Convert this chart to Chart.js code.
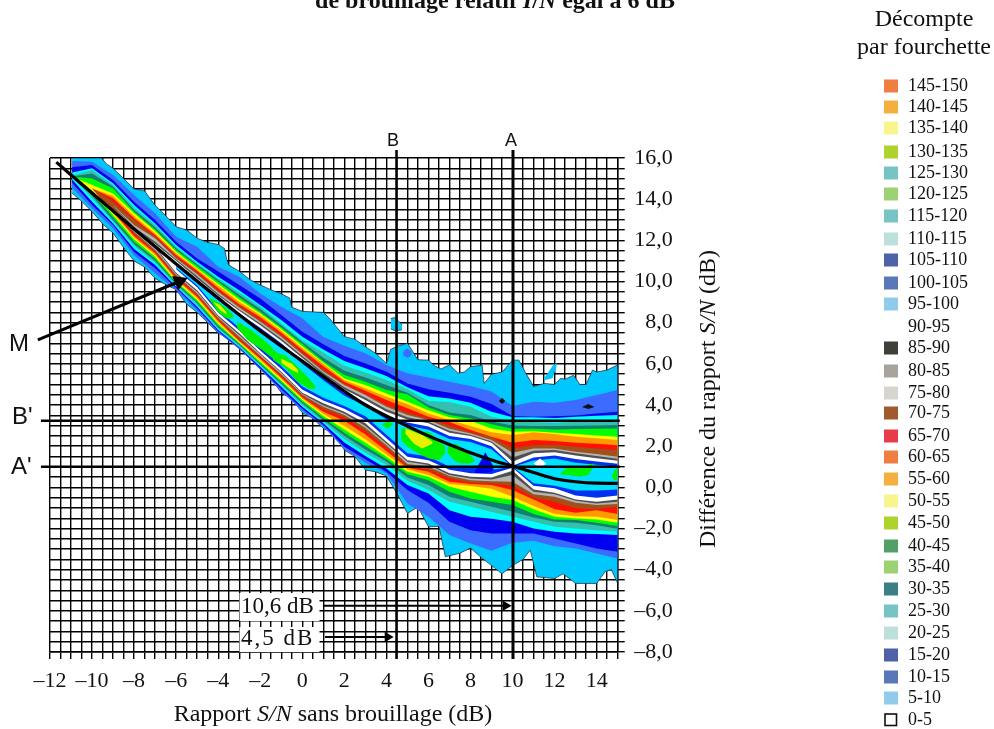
<!DOCTYPE html>
<html><head><meta charset="utf-8">
<style>html,body{margin:0;padding:0;background:#fff}canvas{display:block}</style>
<script src="https://cdn.jsdelivr.net/npm/chart.js@4"></script>
</head><body><canvas id="c" width="994" height="729"></canvas>
<script>
// x columns (dB) at which contour boundaries were read
const colX=[-10.95,-10,-9,-8,-7,-6,-5,-4,-3,-2,-1,0,1,2,3,4,5,6,7,8,9,10,11,12,13,14,15];
// each column: y (dB) of level tops 10,15,20,25,30,35,50,55,65,70,80,85,90 then the same level bottoms in reverse order
const c_m11=[15.85,15.55,15.3,15.15,15.1,15.1,15.1,15.1,15.1,15.1,15.1,15.1,15.1, 15.1,15.1,15.1,15.1,15.1,15.1,15.1,15.1,15.1,15.05,14.95,14.8,14.55];
const c_m10=[15.82,15.66,15.5,15.42,15.25,15.01,14.69,14.52,14.52,14.52,14.52,14.52,14.52, 14.52,14.52,14.52,14.52,14.52,14.52,14.41,14.28,14.17,14.04,13.88,13.72,13.55];
const c_m9=[15.17,14.93,14.77,14.69,14.61,14.52,14.28,14.17,14.04,13.88,13.72,13.72,13.72, 13.72,13.72,13.72,13.47,13.39,13.31,13.23,13.12,12.99,12.91,12.82,12.74,12.58];
const c_m8=[14.2,13.88,13.72,13.6,13.47,13.39,13.31,13.18,13.07,12.99,12.74,12.63,12.58, 12.58,12.5,12.42,12.31,12.21,12.13,12.05,11.93,11.82,11.72,11.58,11.43,11.27];
const c_m7=[13.31,12.99,12.82,12.74,12.63,12.53,12.45,12.34,12.26,12.18,12.1,11.93,11.82, 11.69,11.61,11.53,11.45,11.37,11.29,11.2,11.11,11.01,10.91,10.8,10.64,10.39];
const c_m6=[12.18,11.93,11.77,11.69,11.61,11.53,11.45,11.37,11.29,11.2,11.12,11.07,11.01, 10.43,10.36,10.31,10.23,10.15,10.07,10,9.94,9.88,9.81,9.75,9.68,9.58];
const c_m5=[11.69,11.12,10.96,10.88,10.82,10.75,10.64,10.59,10.52,10.43,10.35,10.26,10.15, 9.58,9.5,9.42,9.34,9.26,9.18,9.1,9.02,8.94,8.85,8.77,8.69,8.58];
const c_m4=[10.72,10.48,10.23,10.15,10.07,9.99,9.88,9.79,9.67,9.55,9.49,9.39,9.32, 8.35,8.29,8.24,8.17,8.09,8.01,7.93,7.85,7.77,7.7,7.64,7.58,7.51];
const c_m3=[10.23,9.83,9.58,9.47,9.34,9.23,9.13,9.02,8.9,8.81,8.74,8.64,8.58, 7.48,7.4,7.32,7.19,7.12,7.07,7.02,6.98,6.93,6.86,6.81,6.77,6.72];
const c_m2=[9.42,9.18,8.86,8.77,8.66,8.53,8.45,8.37,8.26,8.13,8.05,7.96,7.88, 6.51,6.47,6.39,6.34,6.26,6.18,6.1,6.02,5.97,5.92,5.86,5.79,5.73];
const c_m1=[8.77,8.37,8.13,7.96,7.88,7.77,7.69,7.61,7.51,7.4,7.32,7.22,7.12, 5.61,5.57,5.5,5.42,5.34,5.26,5.18,5.1,5.03,4.97,4.89,4.76,4.64];
const c_0=[8.21,7.56,7.32,7.15,7.06,6.96,6.86,6.77,6.67,6.54,6.47,6.38,6.28, 4.59,4.54,4.5,4.43,4.37,4.3,4.24,4.16,4.08,4,3.91,3.82,3.72];
const c_1=[7.3,6.95,6.7,6.55,6.3,6.13,6.05,6,5.88,5.72,5.63,5.55,5.48, 4.08,3.98,3.92,3.79,3.67,3.56,3.46,3.37,3.27,3.19,3.11,3.03,2.94];
const c_2=[6.88,6.38,6.14,5.91,5.67,5.46,5.29,5.21,5.13,5.02,4.97,4.86,4.76, 3.67,3.59,3.51,3.4,3.24,2.98,2.81,2.65,2.51,2.34,2.18,1.97,1.86];
const c_3=[6.51,6.02,5.78,5.58,5.34,5.13,4.97,4.81,4.69,4.53,4.48,4.35,4.24, 3.11,2.98,2.9,2.73,2.57,2.33,2.17,2,1.84,1.68,1.52,1.36,1.19];
const c_4=[5.94,5.62,5.41,5.21,4.97,4.73,4.56,4.4,4.24,4,3.92,3.79,3.67, 2.22,2.13,2.05,1.94,1.76,1.6,1.49,1.36,1.26,1.1,0.92,0.76,0.68];
const c_5=[5.54,5.05,4.86,4.76,4.6,4.52,4.16,4.05,3.84,3.62,3.51,3.4,3.3, 1.32,1.24,1.13,1.03,0.95,0.87,0.76,0.64,0.48,0.32,0.11,-0.13,-0.78];
const c_6=[5.34,4.76,4.43,4.19,4,3.88,3.75,3.59,3.43,3.33,3.27,3.19,3.11, 1.16,1.08,1,0.87,0.76,0.6,0.51,0.35,0.11,-0.13,-0.3,-0.75,-1.43];
const c_7=[5.13,4.6,4.32,4.14,3.64,3.51,3.4,3.27,3.17,3.01,2.85,2.75,2.65, 0.68,0.6,0.55,0.43,0.27,0.16,0.03,-0.22,-0.46,-0.7,-1.11,-1.67,-2.32];
const c_8=[4.92,4.4,4.11,3.92,3.51,3.35,3.24,2.98,2.78,2.68,2.62,2.56,2.49, 0.51,0.43,0.35,0.22,0.16,0.06,-0.22,-0.54,-0.7,-0.94,-1.43,-2.08,-2.73];
const c_9=[4.65,4.05,3.67,3.43,3.2,3.07,2.86,2.68,2.46,2.43,2.3,2.23,2.17, 0.48,0.38,0.29,0.19,0.11,-0.07,-0.46,-0.7,-0.94,-1.2,-1.53,-2.24,-3.08];
const c_10=[3.95,3.46,3.4,3.2,3.01,2.85,2.7,2.54,2.17,1.91,1.68,1.45,1.24, 0.81,0.6,0.27,0.08,-0.13,-0.46,-0.62,-0.86,-1.19,-1.43,-1.67,-2.24,-2.69];
const c_11=[4.16,3.43,3.4,3.17,2.98,2.85,2.72,2.68,2.3,2.05,1.89,1.78,1.65, -0.1,-0.22,-0.34,-0.51,-0.59,-0.91,-1.07,-1.3,-1.46,-1.67,-2,-2.24,-2.6];
const c_12=[4.11,3.45,3.37,3.14,2.98,2.81,2.65,2.59,2.25,2.07,1.89,1.81,1.71, -0.26,-0.33,-0.46,-0.7,-1.07,-1.3,-1.43,-1.56,-1.67,-1.92,-2.16,-2.48,-2.86];
const c_13=[4.24,3.49,3.43,3.19,2.99,2.83,2.59,2.46,2.17,1.97,1.73,1.65,1.55, -0.59,-0.65,-0.75,-1.03,-1.24,-1.4,-1.51,-1.59,-1.72,-2,-2.24,-2.73,-2.97];
const c_14=[4.48,3.59,3.48,3.24,3.01,2.85,2.52,2.38,2.12,1.89,1.62,1.52,1.41, -0.7,-0.78,-0.86,-1.07,-1.11,-1.43,-1.56,-1.72,-1.84,-2.08,-2.27,-2.97,-3.21];
const c_15=[4.73,3.67,3.51,3.27,3.03,2.86,2.46,2.3,2.05,1.81,1.49,1.39,1.29, -0.59,-0.7,-0.81,-0.94,-1.3,-1.59,-1.72,-1.88,-2.01,-2.16,-2.32,-3.13,-3.46];
const columns=[c_m11,c_m10,c_m9,c_m8,c_m7,c_m6,c_m5,c_m4,c_m3,c_m2,c_m1,c_0,c_1,c_2,c_3,c_4,c_5,c_6,c_7,c_8,c_9,c_10,c_11,c_12,c_13,c_14,c_15];
// outermost contour (count = 5)
const outerTopX=[-10.95,-9.55,-9.3,-9,-8.5,-8,-7.5,-7,-6.5,-6,-5.5,-5,-4.5,-4,-3.7,-3.6,-3.5,-3,-2.5,-2,-1.5,-1,-0.6,-0.5,0,1,1.3,2,2.5,3,3.5,4,4.2,4.5,5,5.5,6,6.3,6.6,7,7.4,7.7,8,8.55,8.65,9,9.5,10,10.3,10.6,11,11.5,12,12.3,12.5,12.9,13.2,13.5,13.8,14,14.5,15];
const outerTopY=[16,16,15.7,15.5,15,14.5,14.4,13.7,13.2,12.66,12.5,12.1,11.9,11.8,11.6,11.1,10.8,10.5,10.1,9.83,9.6,9.4,9.2,8.75,8.55,8.5,8.2,7.32,7.2,6.83,6.5,6.02,6.7,6.85,7,6.2,6.18,5.9,5.75,5.95,5.55,5.6,5.86,5.94,5.05,5.5,5.6,6.18,6.18,5.6,4.9,5.05,5,5.3,5.25,5.45,5,5,5.7,5.6,5.7,5.95];
const outerBotX=[-10.95,-10.5,-10,-9.5,-9,-8.5,-8,-7.5,-7,-6.5,-6,-5.5,-5,-4.5,-4,-3.5,-3,-2.5,-2,-1.5,-1,-0.5,0,0.5,1,1.5,2,2.5,3,3.5,4,4.5,5,5.5,6,6.5,6.8,7.5,8,8.5,9,9.5,10,10.5,10.84,11.15,12,12.4,13,13.5,14,14.4,14.7,15];
const outerBotY=[14.3,13.9,13.4,12.8,12.35,11.65,11,10.7,10.15,9.85,9.6,8.9,8.5,8,7.5,7.2,6.75,6.25,5.75,5.3,4.6,4.3,3.62,3.35,2.86,2.6,1.81,1.5,0.84,0.75,0.55,-0.3,-1.27,-0.95,-1.92,-1.9,-3.37,-3.2,-2.95,-3.4,-3.8,-4.2,-3.8,-3.5,-3.05,-4.35,-4.43,-4.2,-4.67,-4.67,-4.67,-4.1,-4,-4.67];
// inner trough between the two ridges (count above 95)
const coreX=[-6,-5,-4,-3,-2,-1,0,1,2,3,4,5,6,7,8,9,10,11,12,13,14,15];
const coreBlueTop=[10.8,9.98,9.2,8.45,7.75,7,6.15,5.35,4.6,4.1,3.5,3.15,2.95,2.5,2.35,2,1.05,1.45,1.55,1.38,1.25,1.15];
const coreBlueBot=[10.6,9.72,8.5,7.62,6.65,5.75,4.75,4.22,3.82,3.28,2.38,1.48,1.32,0.85,0.68,0.65,0.95,0.08,-0.05,-0.4,-0.5,-0.4];
const coreCyanTop=[10.75,9.9,9.08,8.3,7.6,6.85,6,5.2,4.45,3.95,3.3,3,2.8,2.35,2.2,1.85,1,1.3,1.4,1.2,1.1,1];
const coreCyanBot=[10.65,9.8,8.62,7.75,6.8,5.9,4.9,4.35,3.95,3.45,2.55,1.65,1.5,1,0.95,0.85,1,0.2,0.08,-0.15,-0.15,-0.1];
// green and yellow peaks
const lobeGreen=[
 {x:[-4.4,-4,-3.6,-3.3],t:[9.2,9,8.7,8.4],b:[9.1,8.5,8.2,8.2]},
 {x:[-3.1,-2.6,-2,-1.5,-1.2],t:[8.05,7.75,7.3,6.85,6.5],b:[7.75,7.15,6.75,6.35,6.2]},
 {x:[-1.4,-0.8,-0.2,0.3,0.6],t:[6.6,6.4,5.85,5.3,4.95],b:[6.2,5.8,5.1,4.8,4.75]},
 {x:[3.8,4.05,4.3],t:[3.05,3.2,3.1],b:[3,2.85,3.05]},
 {x:[4.7,5,5.5,6,6.5,6.8],t:[2.86,2.86,2.7,2.7,2.3,1.97],b:[2.3,1.97,1.65,1.4,1.32,1.65]},
 {x:[6.9,7.3,7.6,8,8.2],t:[1.97,2.13,1.89,1.57,1.32],b:[1.65,1.24,1.16,1.16,1.29]},
 {x:[12.3,12.7,13.2,13.6,13.85],t:[0.68,1.08,0.92,1.08,1.16],b:[0.6,0.6,0.51,0.6,1]},
 {x:[14.7,14.85,15],t:[0.51,0.84,0.92],b:[0.51,0.35,0.35]}];
const lobeYellow=[
 {x:[-4.2,-3.9,-3.6],t:[9,8.85,8.5],b:[8.95,8.6,8.4]},
 {x:[-1,-0.5,-0.2],t:[6.25,6,5.7],b:[6.05,5.7,5.55]},
 {x:[4.9,5.3,5.7,6.2],t:[2.86,2.7,2.54,2.21],b:[2.62,2.13,1.89,2.13]}];
const lobeBlue={x:[8.2,8.5,8.7,9.1],t:[0.8,1.3,1.7,1],b:[0.7,0.7,0.7,0.8]};
const lobeWhite={x:[11,11.3,11.6],t:[1.16,1.4,1.16],b:[1.16,0.92,1.16]};
const islandCyan={x:[4.2,4.4,4.75],t:[8.2,8.25,7.9],b:[7.7,7.6,7.65]};
const islandBlue={x:[4.8,5,5.2],t:[6.6,6.75,6.6],b:[6.4,6.3,6.4]};
const sliverCyan={x:[11.5,11.9,12.1],t:[5.3,5.9,6.05],b:[5.2,5.3,5.9]};
const pinHoles=[{x:[9.35,9.5,9.65],t:[4.2,4.35,4.2],b:[4.2,4.05,4.2]},{x:[13.3,13.6,13.9],t:[3.9,4.05,3.9],b:[3.9,3.8,3.9]}];
const levelColors=['#3c6cff','#0000f0','#00ffff','#33c0b0','#108070','#00ff00','#ffff00','#ff9900','#ff1000','#a05018','#b4b4b4','#505050','#ffffff'];
// curve M and marker lines
const curveX=[-11.7,-10,-8,-6,-4,-2,0,2,3,4.45,6,7,8,9,10,11,12,13,14,15];
const curveY=[15.8,14.3,12.55,10.85,9.2,7.6,6.13,4.67,4,3.24,2.5,2.08,1.68,1.33,1.03,0.72,0.42,0.27,0.2,0.19];
const lineA=10.02, lineB=4.48, lineBprime=3.24, lineAprime=1;
// tick labels and legend
const xTickLabels=[-12,-10,-8,-6,-4,-2,0,2,4,6,8,10,12,14];
const yTickLabels=[16,14,12,10,8,6,4,2,0,-2,-4,-6,-8];
const legendLabels=['145-150','140-145','135-140','130-135','125-130','120-125','115-120','110-115','105-110','100-105','95-100','90-95','85-90','80-85','75-80','70-75','65-70','60-65','55-60','50-55','45-50','40-45','35-40','30-35','25-30','20-25','15-20','10-15','5-10','0-5'];
const legendColors=['#ef7f40','#f4af3f','#f8f58f','#aed32f','#78c4c4','#9dd272','#78c4c4','#bde0dc','#4f61a8','#5a78b8','#91cbec','#ffffff','#403f3a','#a8a49c','#d8d4ce','#a05a2c','#e83a4a','#ef7f40','#f4af3f','#f8f58f','#aed32f','#50a068','#9dd272','#3a7f85','#78c4c4','#bde0dc','#4f61a8','#5a78b8','#91cbec','#ffffff'];
const legendRowY=[86,107,128,152,173,194,216,239,260,283,304,327,348,371,393,413,436,457,479,501,523,546,567,589,611,633,655,677,698,720];

const SERIF='"Liberation Serif"', SANS='"Liberation Sans"', INK='#111';
const pts=(xs,ys)=>xs.map((x,i)=>({x,y:ys[i]}));
const datasets=[];
function band(xs,top,bot,color,bx,by,edge){
  const base={pointRadius:0,tension:0,borderWidth:edge?0.7:0,borderColor:edge||color};
  datasets.push({...base,data:pts(xs,top),fill:'+1',backgroundColor:color});
  datasets.push({...base,data:pts(bx||xs,by||bot),fill:false});
}
band(outerTopX,outerTopY,null,'#00c8ff',outerBotX,outerBotY,'#223');
levelColors.forEach((col,i)=>band(colX,columns.map(c=>c[i]),columns.map(c=>c[25-i]),col));
band(coreX,coreBlueTop,coreBlueBot,'#0030f0');
band(coreX,coreCyanTop,coreCyanBot,'#00e0ff');
band(lobeBlue.x,lobeBlue.t,lobeBlue.b,'#0000f0');
lobeGreen.forEach(l=>band(l.x,l.t,l.b,'#00f000'));
lobeYellow.forEach(l=>band(l.x,l.t,l.b,'#e8f000'));
band(lobeWhite.x,lobeWhite.t,lobeWhite.b,'#ffffff');
band(islandCyan.x,islandCyan.t,islandCyan.b,'#00c8ff',null,null,'#223');
band(islandBlue.x,islandBlue.t,islandBlue.b,'#3c6cff');
band(sliverCyan.x,sliverCyan.t,sliverCyan.b,'#00c8ff');
pinHoles.forEach(l=>band(l.x,l.t,l.b,'#111111'));
function stroke(data,width,extra){
  datasets.push({data,borderColor:'#000',borderWidth:width,pointRadius:0,fill:false,tension:0,clip:false,...extra});
}
stroke([{x:lineA,y:16.39},{x:lineA,y:-8.34}],3);
stroke([{x:lineB,y:16.39},{x:lineB,y:-8.34}],2.5);
stroke([{x:-12.43,y:lineBprime},{x:15.1,y:lineBprime}],2.5);
stroke([{x:-12.43,y:lineAprime},{x:15.1,y:lineAprime}],2.5);
stroke(pts(curveX,curveY),3.2,{cubicInterpolationMode:'monotone'});
const head=(r,rot)=>({pointRadius:[0,r],pointStyle:'triangle',pointRotation:rot,pointBackgroundColor:'#000',pointBorderWidth:0});
stroke([{x:-12.58,y:7.16},{x:-5.85,y:10}],3,head(9,67));
stroke([{x:0.98,y:-5.75},{x:9.67,y:-5.75}],2,head(6,90));
stroke([{x:1.08,y:-7.27},{x:4.06,y:-7.27}],2,head(6,90));
datasets.forEach((d,i)=>{d.order=datasets.length-i;});

function runs(ctx,parts,x,y,size,weight){
  const f=it=>`${it?'italic ':''}${weight||''} ${size}px ${SERIF}`;
  let w=0; parts.forEach(p=>{ctx.font=f(p[1]);w+=ctx.measureText(p[0]).width;});
  let cx=x-w/2;
  ctx.textAlign='left';
  parts.forEach(p=>{ctx.font=f(p[1]);ctx.fillText(p[0],cx,y);cx+=ctx.measureText(p[0]).width;});
}
const annotations={id:'annotations',afterDatasetsDraw(chart){
  const ctx=chart.ctx; ctx.save();
  ctx.fillStyle='#fff'; ctx.fillRect(239.5,593,80,28); ctx.fillRect(239.5,627,80,25);
  ctx.fillStyle=INK; ctx.textBaseline='alphabetic'; ctx.textAlign='left';
  ctx.font=`23px ${SERIF}`; ctx.fillText('10,6 dB',241,613);
  ctx.letterSpacing='2px'; ctx.fillText('4,5 dB',241,645); ctx.letterSpacing='0px';
  ctx.font=`18px ${SANS}`; ctx.textAlign='center';
  ctx.fillText('A',511,146); ctx.fillText('B',393,146);
  ctx.font=`24px ${SANS}`; ctx.textAlign='left';
  ctx.fillText('M',9,351); ctx.fillText("B'",12,424); ctx.fillText("A'",11,474);
  runs(ctx,[['de brouillage relatif ',0],['I',1],['/',0],['N',1],[' égal à 6 dB',0]],495,8,24,'bold');
  runs(ctx,[['Rapport ',0],['S/N',1],[' sans brouillage (dB)',0]],333,721,24);
  ctx.save(); ctx.translate(715,399); ctx.rotate(-Math.PI/2);
  runs(ctx,[['Différence du rapport ',0],['S/N',1],[' (dB)',0]],0,0,24);
  ctx.restore();
  ctx.textAlign='center'; ctx.font=`24px ${SERIF}`;
  ctx.fillText('Décompte',924,26); ctx.fillText('par fourchette',924,54);
  ctx.textAlign='left'; ctx.font=`18px ${SERIF}`; ctx.textBaseline='middle';
  legendLabels.forEach((t,i)=>{
    const y=legendRowY[i];
    ctx.fillStyle=legendColors[i];
    if(t==='0-5'){ctx.fillStyle='#fff';ctx.strokeStyle='#111';ctx.lineWidth=1.6;ctx.fillRect(885,y-6,11.5,11.5);ctx.strokeRect(885,y-6,11.5,11.5);}
    else if(t!=='90-95'){ctx.fillRect(884,y-6.5,14,13);}
    ctx.fillStyle=INK; ctx.fillText(t,908,y+0.5);
  });
  ctx.restore();
}};
const white={id:'white',beforeDraw(c){c.ctx.save();c.ctx.fillStyle='#fff';c.ctx.fillRect(0,0,c.width,c.height);c.ctx.restore();}};
const gridOpts={color:'#000',lineWidth:1.4,tickLength:7,tickColor:'#000',tickWidth:1.4,drawTicks:true};
new Chart(document.getElementById('c'),{
  type:'line',
  data:{datasets},
  plugins:[white,annotations],
  options:{
    responsive:false,animation:false,events:[],
    layout:{padding:{left:50,top:158,right:321.3,bottom:0}},
    plugins:{legend:{display:false},tooltip:{enabled:false},title:{display:false}},
    scales:{
      x:{type:'linear',min:-12,max:15,grid:gridOpts,border:{color:'#000',width:1.4},
        afterFit(s){s.height=77;},
        afterBuildTicks(s){s.ticks=[];for(let i=0;i<=54;i++)s.ticks.push({value:-12+i*0.5});},
        ticks:{autoSkip:false,maxRotation:0,minRotation:0,padding:9,color:INK,font:{family:'Liberation Serif',size:22},
          callback:v=>xTickLabels.includes(v)?String(v).replace('-','–'):''}},
      y:{type:'linear',position:'right',min:-8,max:16,grid:gridOpts,border:{color:'#000',width:1.4},
        afterFit(s){s.width=55;},
        afterBuildTicks(s){s.ticks=[];for(let i=0;i<=48;i++)s.ticks.push({value:-8+i*0.5});},
        ticks:{autoSkip:false,crossAlign:'far',padding:1,color:INK,font:{family:'Liberation Serif',size:22},
          callback:v=>yTickLabels.includes(v)?(String(v).replace('-','–')+',0'):''}}
    }
  }
});
</script></body></html>
